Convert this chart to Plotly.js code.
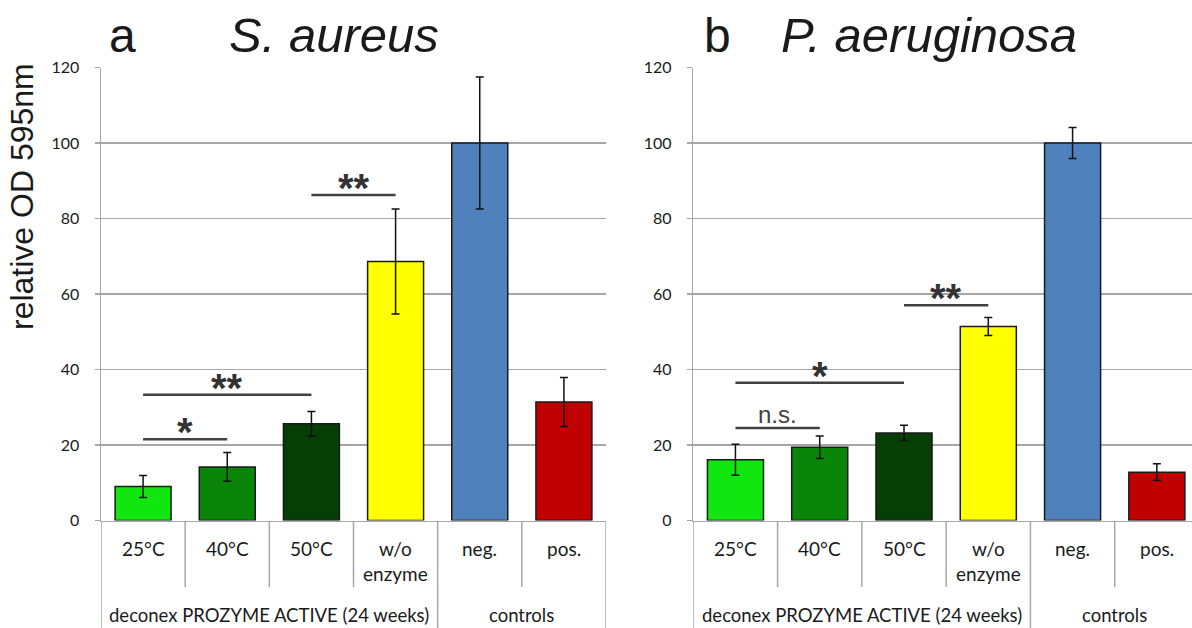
<!DOCTYPE html>
<html>
<head>
<meta charset="utf-8">
<script src="https://cdn.plot.ly/plotly-3.0.1.min.js"></script>
<style>
html, body { margin:0; padding:0; overflow:hidden; background:#fff; }
#chart { width:1200px; height:628px; }
</style>
</head>
<body>
<div id="chart"></div>
<script>
// ---------------- data ----------------
const categories = ['25°C', '40°C', '50°C', 'w/o<br>enzyme', 'neg.', 'pos.'];
const groupLabels = ['deconex PROZYME ACTIVE (24 weeks)', 'controls'];
const groupSpans = [[0, 3], [4, 5]];
const barColors = ['#11e611', '#0a850a', '#053f05', '#ffff00', '#4f81bd', '#c00000'];

const saureusValues = [9.0, 14.2, 25.6, 68.6, 100, 31.4];
const saureusErrors = [2.9, 3.8, 3.3, 13.9, 17.5, 6.5];
const paeruginosaValues = [16.1, 19.4, 23.2, 51.4, 100, 12.8];
const paeruginosaErrors = [4.1, 3.0, 2.0, 2.4, 4.1, 2.2];

const saureusBracketFrom = [0, 0, 2];
const saureusBracketTo = [1, 2, 3];
const saureusBracketLevel = [21.5, 33.3, 86.2];
const saureusBracketLabel = ['*', '**', '**'];

const paeruginosaBracketFrom = [0, 0, 2];
const paeruginosaBracketTo = [1, 2, 3];
const paeruginosaBracketLevel = [24.5, 36.5, 57.0];
const paeruginosaBracketLabel = ['n.s.', '*', '**'];

const yTicks = [0, 20, 40, 60, 80, 100, 120];
const panelLetters = ['a', 'b'];
const panelTitles = ['S. aureus', 'P. aeruginosa'];
const yTitle = 'relative OD 595nm';

// ---------------- layout helpers ----------------
const W = 1200, H = 628;
const px = x => x / W;
const py = y => 1 - y / H;
const GRID = '#a6a6a6';
const TXT = '#1a1a1a';
const LABEL_FONT = 'Lato, "Open Sans", sans-serif';
const TITLE_FONT = '"Liberation Sans", Arial, sans-serif';

const xIdx = categories.map((_, i) => i);

function barTrace(vals, errs, xa, ya) {
  return {
    type: 'bar', x: xIdx, y: vals, xaxis: xa, yaxis: ya,
    width: 0.665,
    marker: { color: barColors, line: { color: '#1a1a1a', width: 1.5 } },
    error_y: { type: 'data', array: errs, visible: true, color: '#111', thickness: 1.5, width: 4 },
    hoverinfo: 'skip', showlegend: false
  };
}

const data = [
  barTrace(saureusValues, saureusErrors, 'x', 'y'),
  barTrace(paeruginosaValues, paeruginosaErrors, 'x2', 'y2')
];

const yTop = 67.5, yBottom = 520.5;
const yDomain = [py(yBottom), py(yTop)];

function xaxis(domain) {
  return {
    domain: domain, range: [-0.5, 5.5], showticklabels: false, ticks: '',
    showgrid: false, zeroline: false, showline: true, linecolor: GRID, linewidth: 1.5,
    fixedrange: true
  };
}
function yaxis(anchor) {
  return {
    domain: yDomain, range: [0, 120], tickvals: yTicks, anchor: anchor,
    showgrid: true, gridcolor: GRID, gridwidth: 1.5, zeroline: false,
    showline: true, linecolor: GRID, linewidth: 1.5,
    ticks: 'outside', ticklen: 5, tickcolor: GRID, tickwidth: 1.5,
    ticklabelstandoff: 12,
    tickfont: { family: LABEL_FONT, size: 16, color: TXT },
    fixedrange: true
  };
}

const shapes = [];
const annotations = [];

function panelDecor(xref, yref, bFrom, bTo, bLevel, bLabel) {
  // category dividers
  for (let b = 0; b <= categories.length; b++) {
    const xb = b - 0.5;
    const isGroupEdge = groupSpans.some(s => xb === s[0] - 0.5 || xb === s[1] + 0.5);
    shapes.push({
      type: 'line', xref: xref, yref: 'paper', x0: xb, x1: xb,
      y0: py(521), y1: isGroupEdge ? py(640) : py(587),
      line: { color: GRID, width: 1.5 }
    });
  }
  // category labels
  categories.forEach((c, i) => {
    const multi = c.indexOf('<br>') >= 0;
    annotations.push({
      xref: xref, yref: 'paper', x: i, y: py(multi ? 560.5 : 548),
      text: c, showarrow: false, xanchor: 'center', yanchor: 'middle',
      font: { family: LABEL_FONT, size: 19, color: TXT }
    });
  });
  // group labels
  groupLabels.forEach((g, k) => {
    annotations.push({
      xref: xref, yref: 'paper', x: (groupSpans[k][0] + groupSpans[k][1]) / 2, y: py(615),
      text: g, showarrow: false, xanchor: 'center', yanchor: 'middle',
      font: { family: LABEL_FONT, size: 18.5, color: TXT }
    });
  });
  // significance brackets
  bLevel.forEach((lv, k) => {
    shapes.push({
      type: 'line', xref: xref, yref: yref, x0: bFrom[k], x1: bTo[k], y0: lv, y1: lv,
      line: { color: '#404040', width: 2.5 }
    });
    const isText = bLabel[k] === 'n.s.';
    annotations.push({
      xref: xref, yref: yref, x: (bFrom[k] + bTo[k]) / 2, y: lv,
      text: bLabel[k], showarrow: false, xanchor: 'center', yanchor: 'bottom',
      yshift: isText ? -2 : -17,
      font: isText ? { family: TITLE_FONT, size: 24, color: '#404040' }
                   : { family: TITLE_FONT, size: 40, color: '#333', weight: 'bold' }
    });
  });
}

panelDecor('x', 'y', saureusBracketFrom, saureusBracketTo, saureusBracketLevel, saureusBracketLabel);
panelDecor('x2', 'y2', paeruginosaBracketFrom, paeruginosaBracketTo, paeruginosaBracketLevel, paeruginosaBracketLabel);

// panel titles
const letterX = [123, 717];
const titleX = [334, 929];
panelLetters.forEach((l, k) => {
  annotations.push({
    xref: 'paper', yref: 'paper', x: px(letterX[k]), y: py(36), text: l,
    showarrow: false, xanchor: 'center', yanchor: 'middle',
    font: { family: TITLE_FONT, size: 48, color: TXT }
  });
  annotations.push({
    xref: 'paper', yref: 'paper', x: px(titleX[k]), y: py(35), text: '<i>' + panelTitles[k] + '</i>',
    showarrow: false, xanchor: 'center', yanchor: 'middle',
    font: { family: TITLE_FONT, size: 49, color: TXT }
  });
});
// y title
annotations.push({
  xref: 'paper', yref: 'paper', x: px(22), y: py(197), text: yTitle, textangle: -90,
  showarrow: false, xanchor: 'center', yanchor: 'middle',
  font: { family: TITLE_FONT, size: 32, color: TXT }
});

const layout = {
  width: W, height: H,
  margin: { l: 0, r: 0, t: 0, b: 0 },
  paper_bgcolor: '#fff', plot_bgcolor: '#fff',
  bargap: 0.335,
  xaxis: xaxis([px(101), px(606)]),
  yaxis: yaxis('x'),
  xaxis2: xaxis([px(693.3), px(1199)]),
  yaxis2: yaxis('x2'),
  shapes: shapes,
  annotations: annotations,
  showlegend: false
};
layout.xaxis2.anchor = 'y2';

Plotly.newPlot('chart', data, layout, { displayModeBar: false, staticPlot: true });
</script>
</body>
</html>
